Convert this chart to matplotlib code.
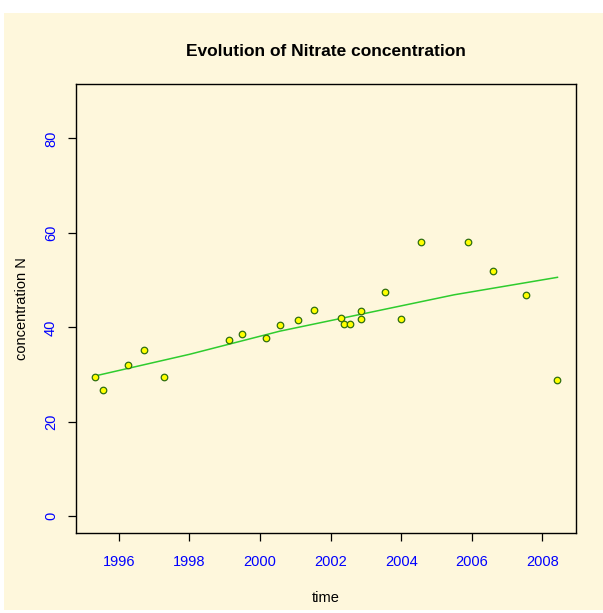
import matplotlib
matplotlib.use("Agg")
import matplotlib.pyplot as plt
from matplotlib.patches import Rectangle

# Data
time = [1995.31, 1995.55, 1996.26, 1996.70, 1997.27, 1999.11, 1999.48, 2000.18,
        2000.56, 2001.09, 2001.53, 2002.29, 2002.37, 2002.56, 2002.86, 2002.86,
        2003.53, 2003.99, 2004.55, 2005.88, 2006.59, 2007.54, 2008.43]
nitrate = [29.6, 26.7, 32.1, 35.2, 29.6, 37.3, 38.7, 37.7,
           40.6, 41.5, 43.6, 41.9, 40.7, 40.7, 43.4, 41.7,
           47.4, 41.7, 58.0, 58.0, 51.9, 46.8, 28.8]
trend_x = [1995.31, 1998.0, 2000.56, 2003.0, 2005.5, 2008.43]
trend_y = [29.7, 34.3, 39.2, 43.0, 46.9, 50.6]
xticks = [1996, 1998, 2000, 2002, 2004, 2006, 2008]
yticks = [0, 20, 40, 60, 80]

cream = "#FEF7DC"
plt.rcParams['font.family'] = ['Liberation Sans', 'DejaVu Sans']

W, H = 603, 613
fig = plt.figure(figsize=(W / 100, H / 100), dpi=100)
fig.patch.set_facecolor("white")
fig.add_artist(Rectangle((4 / W, 3 / H), 1 - 4 / W, (610 - 13) / H,
                         transform=fig.transFigure, facecolor=cream,
                         edgecolor="none", zorder=-10))

ax = fig.add_axes([76 / W, (H - 533) / H, 500 / W, (533 - 84) / H])
ax.set_facecolor(cream)

ax.plot(trend_x, trend_y, color="#2ECC2E", lw=1.1, zorder=2)
ax.scatter(time, nitrate, s=22, facecolor="#FFFF00", edgecolor="#2F6E10",
           linewidths=0.9, zorder=3)

r = max(time) - min(time)
ax.set_xlim(min(time) - 0.04 * r, max(time) + 0.04 * r)
ax.set_ylim(0 - 0.04 * 88, 88 + 0.04 * 88)

ax.set_xticks(xticks)
ax.set_xticklabels([str(v) for v in xticks])
ax.set_yticks(yticks)
ax.set_yticklabels([str(v) for v in yticks], rotation=90, va="center")

ax.tick_params(axis="both", direction="out", length=6, width=0.9,
               colors="black", labelcolor="#0000FF", labelsize=10.5)
ax.tick_params(axis="x", pad=10)
ax.tick_params(axis="y", pad=7)

for s in ax.spines.values():
    s.set_linewidth(1.0)
    s.set_color("black")

ax.set_title("Evolution of Nitrate concentration", fontsize=12.5,
             fontweight="bold", pad=20)
ax.set_xlabel("time", fontsize=10.5, labelpad=16)
ax.set_ylabel("concentration N", fontsize=10.5, labelpad=11)

fig.savefig("out.png", dpi=100, facecolor=fig.get_facecolor())
